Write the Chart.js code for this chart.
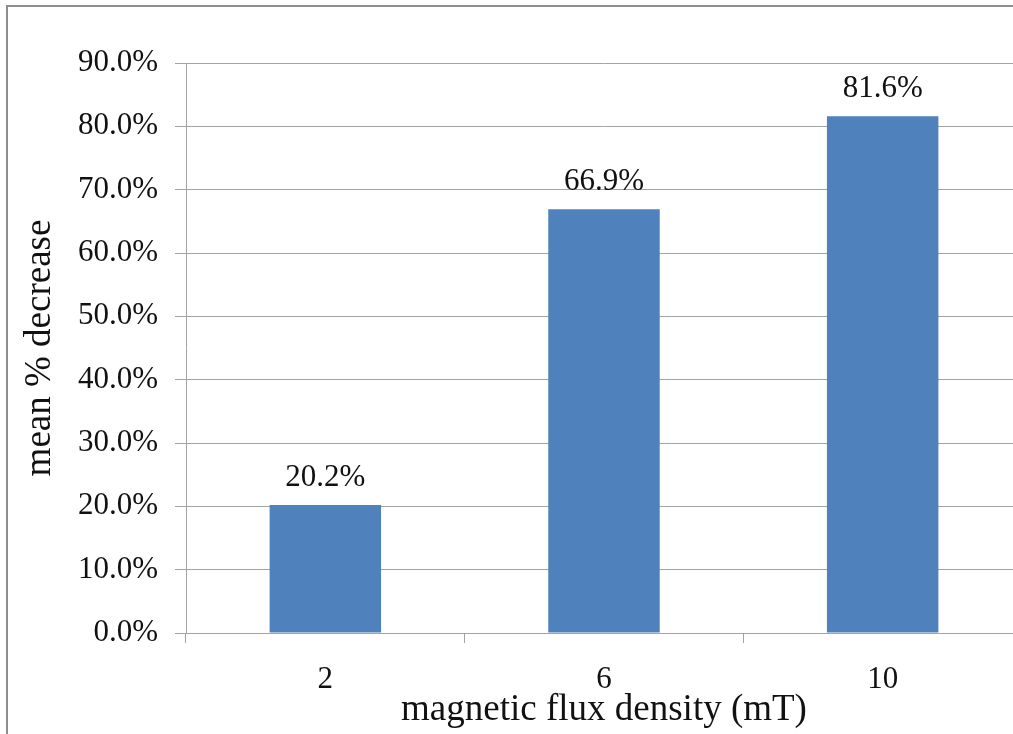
<!DOCTYPE html>
<html>
<head>
<meta charset="utf-8">
<script src="https://cdn.jsdelivr.net/npm/chart.js@4/dist/chart.umd.min.js"></script>
<style>
    html, body { margin: 0; padding: 0; background: #fff; overflow: hidden; width: 1013px; height: 734px; }
    #frame { position: absolute; left: 6px; top: 5px; width: 1007px; height: 729px; border-left: 2px solid #8e8e8e; border-top: 2px solid #8e8e8e; box-sizing: border-box; }
    #wrap { position: absolute; left: 0; top: 0; width: 1013px; height: 734px; overflow: hidden; }
</style>
</head>
<body>
<div id="frame"></div>
<div id="wrap"><canvas id="chart" width="1030" height="734"></canvas></div>
<script>
const categories = ['2', '6', '10'];
const meanDecrease = [0.202, 0.669, 0.816];
const dataLabels = ['20.2%', '66.9%', '81.6%'];

const serif = '"Liberation Serif", "Times New Roman", serif';
const gridColor = '#a3a3a3';

// write the value above each bar
const barLabels = {
    id: 'barLabels',
    afterDatasetsDraw(chart) {
        const ctx = chart.ctx;
        const meta = chart.getDatasetMeta(0);
        ctx.save();
        ctx.font = '31px ' + serif;
        ctx.fillStyle = '#111';
        ctx.textAlign = 'center';
        ctx.textBaseline = 'alphabetic';
        meta.data.forEach((bar, i) => {
            ctx.fillText(dataLabels[i], bar.x, bar.y - 19);
        });
        ctx.restore();
    }
};

new Chart(document.getElementById('chart').getContext('2d'), {
    type: 'bar',
    data: {
        labels: categories,
        datasets: [{
            data: meanDecrease,
            backgroundColor: '#4F81BD',
            borderWidth: 0,
            categoryPercentage: 1,
            barPercentage: 0.4
        }]
    },
    options: {
        responsive: false,
        animation: false,
        devicePixelRatio: 1,
        layout: { padding: { top: 63, right: 8, bottom: 0, left: 0 } },
        plugins: { legend: { display: false }, tooltip: { enabled: false } },
        scales: {
            x: {
                grid: { drawOnChartArea: false, tickLength: 10, color: gridColor, offset: true },
                border: { color: gridColor },
                ticks: { color: '#111', font: { family: serif, size: 31 }, padding: 18 },
                title: {
                    display: true,
                    text: 'magnetic flux density (mT)',
                    color: '#111',
                    font: { family: serif, size: 37, lineHeight: 1.2 },
                    padding: { top: 0, bottom: 2 }
                },
                afterFit(scale) { scale.height = 101; }
            },
            y: {
                min: 0,
                max: 0.9,
                grid: { color: gridColor, tickLength: 11 },
                border: { color: gridColor },
                ticks: {
                    stepSize: 0.1,
                    color: '#111',
                    font: { family: serif, size: 31 },
                    padding: 17,
                    callback: v => (v * 100).toFixed(1) + '%'
                },
                title: {
                    display: true,
                    text: 'mean % decrease',
                    color: '#111',
                    font: { family: serif, size: 37, lineHeight: 1.2 },
                    padding: { top: 18, bottom: 0 }
                },
                afterFit(scale) { scale.width = 186; }
            }
        }
    },
    plugins: [barLabels]
});
</script>
</body>
</html>
